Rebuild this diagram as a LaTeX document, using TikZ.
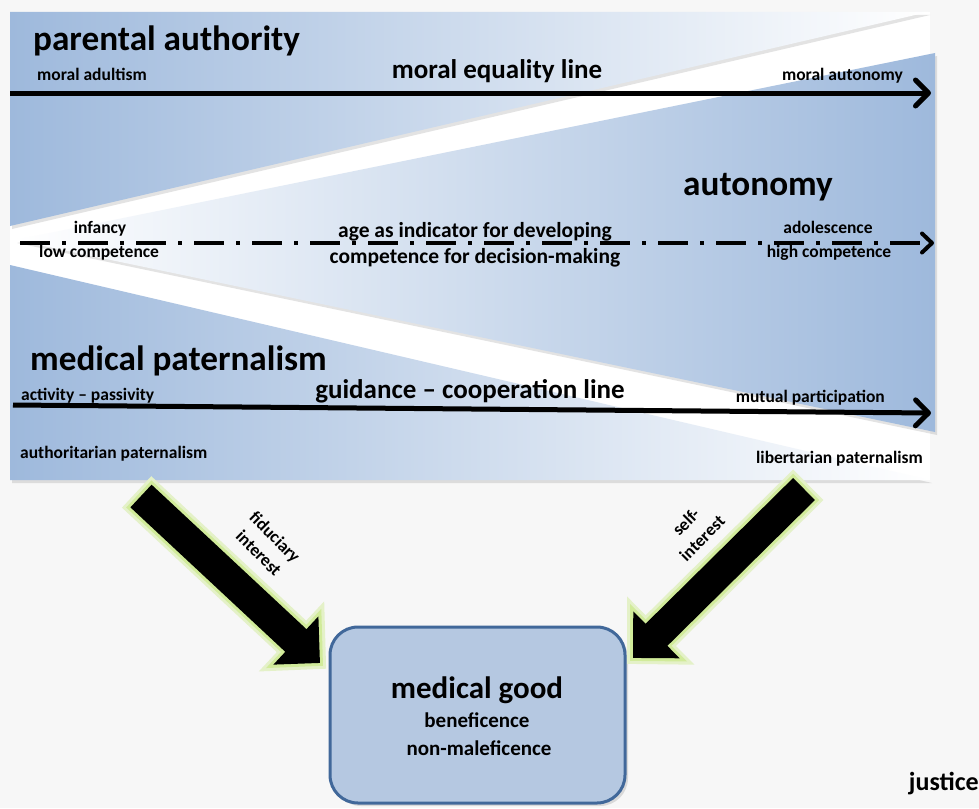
\documentclass[tikz,border=0pt]{standalone}
\usepackage{fontspec}
\setmainfont{Carlito}
\usetikzlibrary{arrows.meta,shadows,positioning}

\definecolor{paneblue}{RGB}{158,185,220}
\definecolor{boxblue}{RGB}{181,200,225}
\definecolor{boxedge}{RGB}{65,104,154}
\definecolor{glowgreen}{RGB}{200,232,130}
\definecolor{bggray}{RGB}{247,247,247}

\tikzset{
  titlelabel/.style={font=\bfseries\fontsize{35.2}{41}\selectfont, inner sep=0pt},
  linelabel/.style={font=\bfseries\fontsize{27}{32}\selectfont, inner sep=0pt},
  agelabel/.style={font=\bfseries\fontsize{21.5}{26}\selectfont, inner sep=0pt},
  smalllabel/.style={font=\bfseries\fontsize{17.5}{23}\selectfont, inner sep=0pt},
  goodlabel/.style={font=\bfseries\fontsize{31}{36}\selectfont, inner sep=0pt},
  sublabel/.style={font=\bfseries\fontsize{21}{26}\selectfont, inner sep=0pt},
  panelshadow/.style={drop shadow={opacity=0.22, shadow xshift=2pt, shadow yshift=-3pt}},
  mainline/.style={line width=5pt, -{Straight Barb[length=13pt,width=26pt,round]}},
  ageline/.style={line width=4pt, dash pattern=on 30pt off 12pt on 4pt off 12pt,
    -{Straight Barb[length=10pt,width=19pt,round]}},
  blockarrow/.style={line width=31pt, -{Triangle[length=33pt,width=64pt]}},
  glowinner/.style={line width=37pt, glowgreen!80!bggray, shorten <=-3pt, shorten >=-4.2pt,
    -{Triangle[length=40.2pt,width=78.5pt]}},
  glowouter/.style={line width=43pt, glowgreen!40!bggray, shorten <=-6pt, shorten >=-8.5pt,
    -{Triangle[length=47.5pt,width=93pt]}},
  goodbox/.style={draw=boxedge, line width=3pt, fill=boxblue, rounded corners=28pt,
    minimum width=295pt, minimum height=176pt, drop shadow={opacity=0.25, shadow xshift=3pt, shadow yshift=-3pt}}
}

\begin{document}
\begin{tikzpicture}[x=1pt,y=-1pt]
\useasboundingbox[fill=bggray] (0,0) rectangle (979,808);
\fill[white] (10,12) rectangle (930,480);

% the three wedges
\path[panelshadow, left color=paneblue, right color=white] (10,12) -- (928,12) -- (10,226) -- cycle;
\path[panelshadow, left color=white, right color=paneblue] (15,240) -- (935,53) -- (935,432) -- cycle;
\path[panelshadow, left color=paneblue, right color=white] (10,265) -- (930,480) -- (10,480) -- cycle;

% lines
\coordinate (eqstart) at (10,93);
\coordinate (eqend) at (931,93);
\draw[mainline] (eqstart) -- (eqend);
\coordinate (agestart) at (20,243);
\coordinate (ageend) at (934,243);
\draw[ageline] (agestart) -- (ageend);
\coordinate (guistart) at (13,405);
\coordinate (guiend) at (931,413);
\draw[mainline] (guistart) -- (guiend);

% texts
\node[titlelabel, anchor=base west] (parental) at (33,51) {parental authority};
\node[smalllabel, anchor=base west] (adultism) at (37,81) {moral adultism};
\node[linelabel, anchor=base] (equality) at (497,78) {moral equality line};
\node[smalllabel, anchor=base east] (moralaut) at (903,80) {moral autonomy};

\node[titlelabel, anchor=base] (autonomy) at (758,195) {autonomy};
\node[smalllabel, anchor=base] (infancy) at (100,233) {infancy};
\node[smalllabel, anchor=base west] (lowcomp) at (39,257) {low competence};
\node[agelabel, anchor=base] (agetop) at (475,237) {age as indicator for developing};
\node[agelabel, anchor=base] (agebottom) at (475,263) {competence for decision-making};
\node[smalllabel, anchor=base] (adolescence) at (828,233) {adolescence};
\node[smalllabel, anchor=base] (highcomp) at (829,257) {high competence};

\node[titlelabel, anchor=base west] (medpat) at (30,370) {medical paternalism};
\node[smalllabel, anchor=base west] (activity) at (21,400) {activity – passivity};
\node[linelabel, anchor=base] (guidance) at (470,398) {guidance – cooperation line};
\node[smalllabel, anchor=base east] (mutual) at (885,402) {mutual participation};
\node[smalllabel, anchor=base west] (authoritarian) at (20,458) {authoritarian paternalism};
\node[smalllabel, anchor=base east] (libertarian) at (923,463) {libertarian paternalism};

% medical good
\node[goodbox] (good) at (477.5,715) {};
\node[goodlabel, anchor=base] (goodtitle) at (477,698) {medical good};
\node[sublabel, anchor=base] (benef) at (477,727) {beneficence};
\node[sublabel, anchor=base] (nonmal) at (479,755) {non-maleficence};

% block arrows
\coordinate (fidtail) at (141,496);
\coordinate (fidtip) at (320,663);
\coordinate (selftail) at (804,489);
\coordinate (selftip) at (633,658);
\foreach \from/\to in {fidtail/fidtip, selftail/selftip}{
  \draw[glowouter] (\from) -- (\to);
  \draw[glowinner] (\from) -- (\to);
  \draw[blockarrow] (\from) -- (\to);
}
\node[smalllabel, align=center, rotate=-45] (fiduciary) at (267,545) {fiduciary\\interest};
\node[smalllabel, align=center, rotate=45] (selfint) at (694,530) {self-\\interest};

\node[font=\bfseries\fontsize{26}{30}\selectfont, inner sep=0pt, anchor=base east] (justice) at (979,790) {justice};
\end{tikzpicture}
\end{document}
